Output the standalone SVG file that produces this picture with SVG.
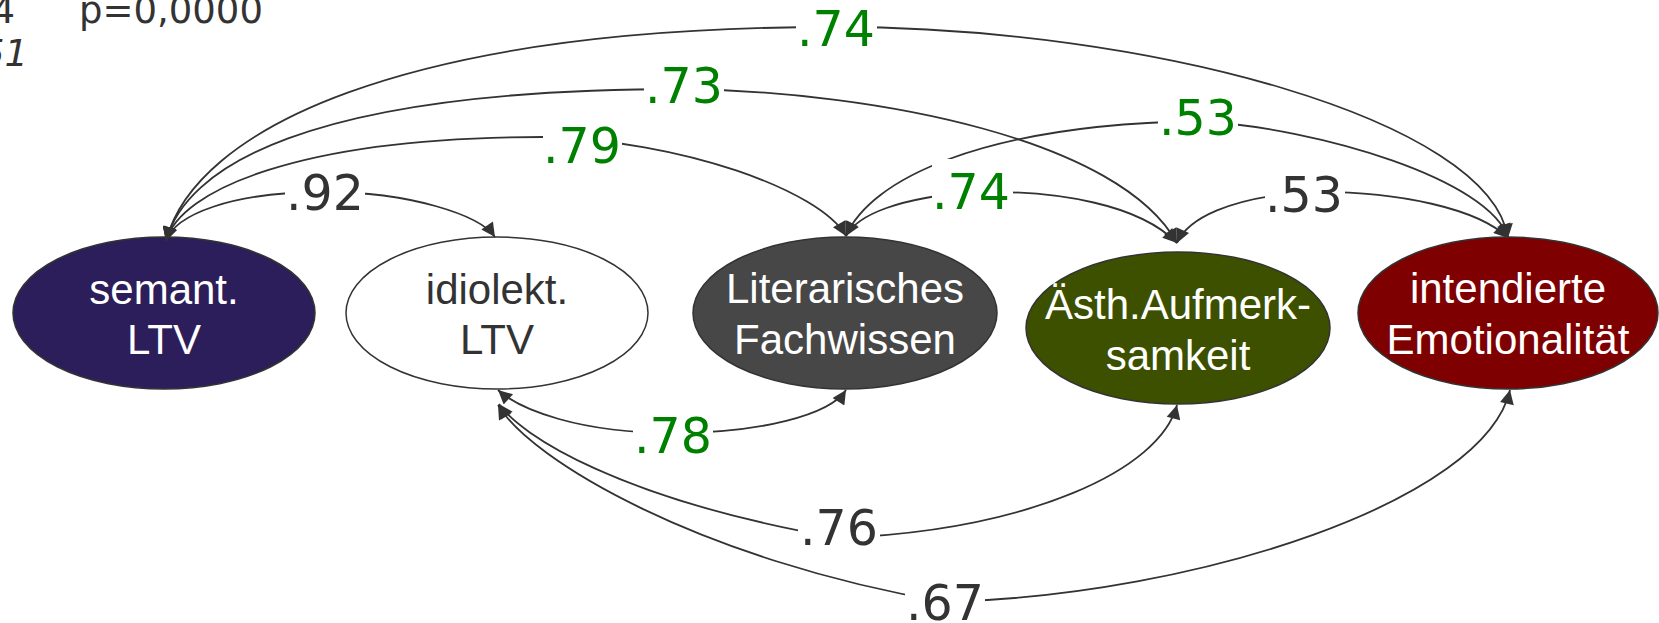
<svg xmlns="http://www.w3.org/2000/svg" width="1659" height="623" viewBox="0 0 1659 623">
<style>
.n{stroke:#333;stroke-width:1.5}
.nt{font-family:"Liberation Sans",Arial,sans-serif;font-size:42px;text-anchor:middle;fill:#fff}
.e{fill:none;stroke:#333;stroke-width:1.8;marker-start:url(#arr);marker-end:url(#arr)}
.lb{fill:#fff}
.l{font-family:"DejaVu Sans",Verdana,sans-serif;font-size:49px;text-anchor:middle}
.g{fill:#008000}
.d{fill:#333}
.hd{font-family:"DejaVu Sans",Verdana,sans-serif;font-size:37px;fill:#333}
</style>
<defs>
<marker id="arr" viewBox="0 0 10 10" refX="10" refY="5" markerWidth="18" markerHeight="14" markerUnits="userSpaceOnUse" orient="auto-start-reverse">
<path d="M0,0 L10,5 L0,10 z" fill="#333"/>
</marker>
</defs>
<rect width="1659" height="623" fill="#fff"/>
<text class="hd" x="15" y="23" text-anchor="end">4</text>
<text class="hd" x="79" y="23">p=0,0000</text>
<text class="hd" x="28" y="66" text-anchor="end" font-style="italic" font-size="34">51</text>

<g id="node-semant">
<ellipse class="n" cx="164" cy="313" rx="151" ry="76" fill="#2c1e5a"/>
<text class="nt" x="164" y="304">semant.</text>
<text class="nt" x="164" y="354">LTV</text>
</g>
<g id="node-idiolekt">
<ellipse class="n" cx="497" cy="313" rx="151" ry="76" fill="#fff"/>
<text class="nt" x="497" y="304" style="fill:#333">idiolekt.</text>
<text class="nt" x="497" y="354" style="fill:#333">LTV</text>
</g>
<g id="node-literarisches">
<ellipse class="n" cx="845" cy="313" rx="152" ry="76" fill="#474747"/>
<text class="nt" x="845" y="303">Literarisches</text>
<text class="nt" x="845" y="354">Fachwissen</text>
</g>
<g id="node-aesth">
<ellipse class="n" cx="1178" cy="328" rx="152" ry="76" fill="#3d5000"/>
<text class="nt" x="1178" y="319">Ästh.Aufmerk-</text>
<text class="nt" x="1178" y="370">samkeit</text>
</g>
<g id="node-emotionalitaet">
<ellipse class="n" cx="1508" cy="313" rx="150" ry="76" fill="#7f0000"/>
<text class="nt" x="1508" y="303">intendierte</text>
<text class="nt" x="1508" y="354">Emotionalität</text>
</g>

<g id="connectors">
<path class="e" d="M166,241 C175,215 230,192 325,192 C410,192 480,215 495,237"/>
<path class="e" d="M166,241 C180,190 300,137 543,137 C680,140 820,190 846,236"/>
<path class="e" d="M166,241 C185,170 300,89 684,89 C880,92 1120,140 1177,243"/>
<path class="e" d="M166,241 C195,130 400,27 836,27 C1150,27 1490,120 1508,238"/>
<path class="e" d="M846,236 C858,214 900,198 972,192 C1060,190 1140,205 1177,243"/>
<path class="e" d="M846,236 C870,180 980,125 1198,121 C1320,128 1490,180 1508,238"/>
<path class="e" d="M1177,243 C1188,218 1230,198 1305,192 C1400,190 1480,210 1508,238"/>
<path class="e" d="M498,390 C520,410 580,433 673,433 C760,433 830,415 846,390"/>
<path class="e" d="M499,404 C520,435 620,500 839,538 C1030,530 1160,470 1177,405"/>
<path class="e" d="M498,405 C530,460 700,560 945,602 C1200,595 1485,500 1510,390"/>

<g id="labels">
<rect class="lb" x="796" y="3" width="81" height="52"/>
<text class="l g" x="836" y="46">.74</text>
<rect class="lb" x="644" y="61" width="80" height="52"/>
<text class="l g" x="684" y="103">.73</text>
<rect class="lb" x="543" y="121" width="79" height="50"/>
<text class="l g" x="582" y="163">.79</text>
<rect class="lb" x="285" y="170" width="80" height="48"/>
<text class="l d" x="325" y="210">.92</text>
<rect class="lb" x="932" y="159" width="81" height="58"/>
<text class="l g" x="971" y="209">.74</text>
<rect class="lb" x="1158" y="93" width="80" height="50"/>
<text class="l g" x="1198" y="135">.53</text>
<rect class="lb" x="1265" y="170" width="80" height="50"/>
<text class="l d" x="1304" y="212">.53</text>
<rect class="lb" x="633" y="411" width="80" height="50"/>
<text class="l g" x="673" y="453">.78</text>
<rect class="lb" x="798" y="503" width="82" height="50"/>
<text class="l d" x="839" y="545">.76</text>
<rect class="lb" x="905" y="578" width="80" height="45"/>
<text class="l d" x="945" y="620">.67</text>
</g>
</g>
</svg>
